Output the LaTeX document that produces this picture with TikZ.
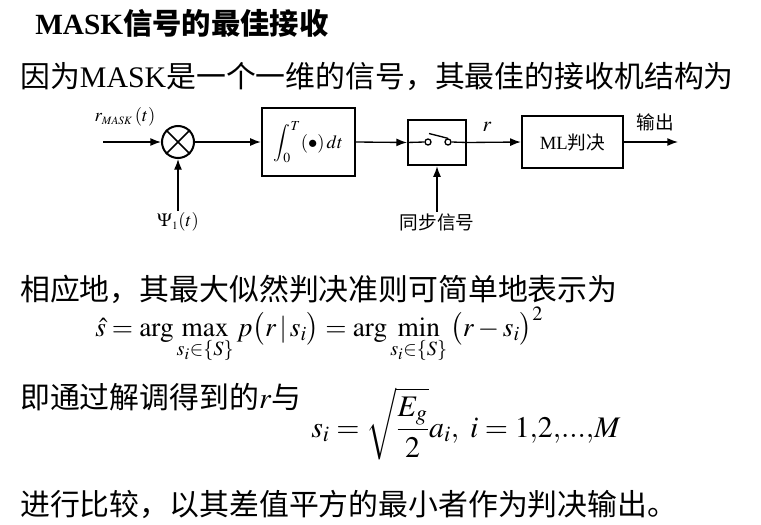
\documentclass[tikz,border=0pt]{standalone}
\usepackage{amsmath}
\usepackage{mathptmx}
\usepackage{fontspec}
\setmainfont{Liberation Serif}
\newfontfamily\cjk{Noto Sans CJK SC}
\usetikzlibrary{arrows.meta}

\begin{document}
\begin{tikzpicture}[x=0.75pt,y=-0.75pt,
  txt/.style={anchor=base west,inner sep=0pt,font=\fontsize{22.4}{26}\selectfont},
  blk/.style={draw,line width=1.5pt,inner sep=0pt},
  lbl/.style={inner sep=1pt,font=\fontsize{14}{17}\selectfont},
  sig/.style={line width=1pt,-{Latex[length=8pt,width=6pt]}}]
\useasboundingbox (0,0) rectangle (761,525);

% heading and first line
\node[txt,font=\fontsize{22}{26}\selectfont\bfseries] (title) at (35,34) {MASK{\cjk 信号的最佳接收}};
\node[txt] (intro) at (20,87) {{\cjk 因为}MASK{\cjk 是一个一维的信号，其最佳的接收机结构为}};

% receiver
\node[draw,circle,line width=1.5pt,minimum size=24pt,inner sep=0pt] (mult) at (178,142) {};
\draw[line width=1.2pt] (mult.north west) -- (mult.south east)
  (mult.north east) -- (mult.south west);
\node[blk,minimum width=70pt,minimum height=51pt,font=\fontsize{14}{17}\selectfont] (integ) at (308.5,142)
  {$\displaystyle\int_0^T\!\left(\bullet\right)dt$};
\node[blk,minimum width=43.5pt,minimum height=34pt] (samp) at (437,142.5) {};
\node[blk,minimum width=76pt,minimum height=39pt,font=\fontsize{14}{17}\selectfont] (dec) at (572.5,142)
  {ML{\cjk 判决}};

% switch
\node[circle,draw,line width=1pt,minimum size=4.5pt,inner sep=0pt] (swa) at (428,142) {};
\node[circle,draw,line width=1pt,minimum size=4.5pt,inner sep=0pt] (swb) at (448,142) {};
\coordinate (lever) at (429,133.5);
\draw[line width=1pt] (samp.west) -- (swa.west) (swb.east) -- (samp.east);
\draw[line width=1pt] (lever) -- (swb.north);

% labels
\node[lbl] (rin) at (125,117) {$r_{\scriptscriptstyle MASK}\left(t\right)$};
\node[lbl] (psi) at (178,222) {$\Psi_{\scriptscriptstyle 1}\!\left(t\right)$};
\node[lbl] (sync) at (437,222) {\cjk 同步信号};
\node[lbl,font=\fontsize{16}{18}\selectfont] (rlab) at (487,127) {$r$};
\node[lbl] (outlab) at (655,122) {\cjk 输出};
\coordinate (in) at (103,142);
\coordinate (out) at (678,142);

% connectors
\draw[sig] (in) -- (mult.west);
\draw[sig] (mult.east) -- (integ.west);
\draw[sig] (integ.east) -- (samp.west);
\draw[sig] (samp.east) -- (dec.west);
\draw[sig] (dec.east) -- (out);
\draw[sig] (psi.north) -- (mult.south);
\draw[sig] (sync.north) -- (samp.south);

% decision rule
\node[txt] (rule) at (20,300) {\cjk 相应地，其最大似然判决准则可简单地表示为};
\node[txt,font=\fontsize{20.5}{24}\selectfont] (crit) at (95,336)
  {$\displaystyle \hat{s}=\arg\max_{s_i\in\{S\}} p\big(r\,|\,s_i\big)=\arg\min_{s_i\in\{S\}}\big(r-s_i\big)^2$};
\node[txt] (via) at (20,408) {{\cjk 即通过解调得到的}$r${\cjk 与}};
\node[txt] (symb) at (311,437)
  {$\displaystyle s_i=\sqrt{\frac{E_g}{2}}a_i,\ i=1{,}2{,}...{,}M$};
\node[txt] (concl) at (20,515) {\cjk 进行比较，以其差值平方的最小者作为判决输出。};
\end{tikzpicture}
\end{document}
